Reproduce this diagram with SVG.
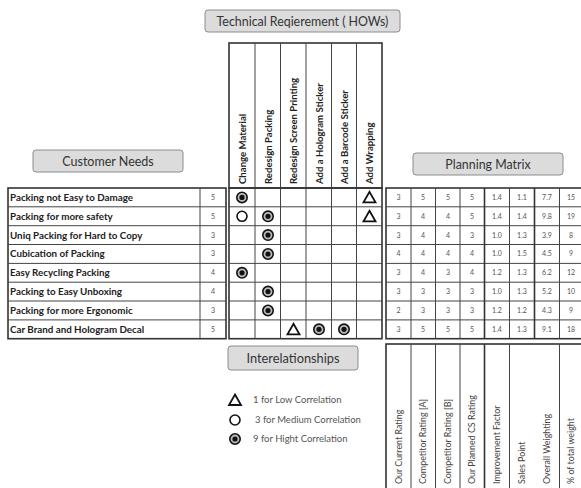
<svg xmlns="http://www.w3.org/2000/svg" width="581" height="488" viewBox="0 0 581 488">
<style>
.lbl{fill:#dcdcdc;stroke:#8c8c8c;stroke-width:1}
.lt{font-family:Lato,"Liberation Sans",sans-serif;fill:#333;text-anchor:middle}
.g{stroke:#444;stroke-width:1;fill:none}
.ob{stroke:#333;stroke-width:1.6;fill:none}
.row{font-family:Lato,"Liberation Sans",sans-serif;font-weight:bold;font-size:9.8px;fill:#222}
.val{font-family:Lato,"Liberation Sans",sans-serif;font-size:7px;fill:#555;text-anchor:middle}
.hd{font-family:Lato,"Liberation Sans",sans-serif;font-weight:bold;font-size:9.6px;fill:#222}
.bt{font-family:Lato,"Liberation Sans",sans-serif;font-size:8.9px;fill:#444}
.lg{font-family:Lato,"Liberation Sans",sans-serif;font-size:9.5px;fill:#555}
.tri{fill:none;stroke:#111;stroke-width:1.8;stroke-linejoin:miter}
.oc{fill:#fff;stroke:#111;stroke-width:1.6}
</style>
<defs>
<g id="full"><circle r="5.2" fill="#bbb" stroke="#111" stroke-width="1.6"/><circle r="2.6" fill="#111"/></g>
<g id="open"><circle r="5" class="oc"/></g>
<g id="tri"><path d="M0,-5.5 L6,5 L-6,5 Z" class="tri"/></g>
</defs>
<rect width="581" height="488" fill="#fff"/>

<!-- Labels -->
<g id="title">
<rect class="lbl" x="205" y="10" width="195" height="22" rx="3"/>
<text class="lt" x="302.5" y="25.5" font-size="12.4">Technical Reqierement ( HOWs)</text>
</g>
<g id="customer-needs">
<rect class="lbl" x="33" y="150" width="150" height="22" rx="3"/>
<text class="lt" x="108" y="166" font-size="12.5">Customer Needs</text>
</g>
<g id="planning-matrix-label">
<rect class="lbl" x="413" y="153" width="150" height="22" rx="3"/>
<text class="lt" x="488" y="168.5" font-size="12.4">Planning Matrix</text>
</g>
<g id="interrelationships-label">
<rect class="lbl" x="228" y="346" width="130" height="24" rx="3"/>
<text class="lt" x="293" y="362.5" font-size="12.8">Interelationships</text>
</g>

<!-- Column headers -->
<g id="hows">
<rect class="ob" x="229" y="43" width="153" height="145"/>
<path class="g" d="M255,43V188M280.5,43V188M306,43V188M331.5,43V188M356.5,43V188"/>
<text class="hd" transform="translate(245.5,184) rotate(-90)">Change Material</text>
<text class="hd" transform="translate(271.5,184) rotate(-90)">Redesign Packing</text>
<text class="hd" transform="translate(297,184) rotate(-90)">Redesign Screen Printing</text>
<text class="hd" transform="translate(322.5,184) rotate(-90)">Add a Hologram Sticker</text>
<text class="hd" transform="translate(347.5,184) rotate(-90)">Add a Barcode Sticker</text>
<text class="hd" transform="translate(373,184) rotate(-90)">Add Wrapping</text>
</g>

<!-- Customer needs table -->
<g id="whats">
<rect class="ob" x="8" y="188" width="218" height="150.7"/>
<path class="g" d="M200,188V338.7M8,206.8H226M8,225.7H226M8,244.5H226M8,263.4H226M8,282.2H226M8,301H226M8,319.9H226"/>
<text class="row" x="10" y="200.8">Packing not Easy to Damage</text>
<text class="row" x="10" y="219.7">Packing for more safety</text>
<text class="row" x="10" y="238.5">Uniq Packing for Hard to Copy</text>
<text class="row" x="10" y="257.4">Cubication of Packing</text>
<text class="row" x="10" y="276.2">Easy Recycling Packing</text>
<text class="row" x="10" y="295">Packing to Easy Unboxing</text>
<text class="row" x="10" y="313.9">Packing for more Ergonomic</text>
<text class="row" x="10" y="332.7">Car Brand and Hologram Decal</text>
<text class="val" x="213" y="199.8">5</text>
<text class="val" x="213" y="218.7">5</text>
<text class="val" x="213" y="237.5">3</text>
<text class="val" x="213" y="256.4">3</text>
<text class="val" x="213" y="275.2">4</text>
<text class="val" x="213" y="294">4</text>
<text class="val" x="213" y="312.9">3</text>
<text class="val" x="213" y="331.7">5</text>
</g>

<!-- Relationship matrix -->
<g id="matrix">
<rect class="ob" x="229" y="188" width="153" height="150.7"/>
<path class="g" d="M255,188V338.7M280.5,188V338.7M306,188V338.7M331.5,188V338.7M356.5,188V338.7M229,206.8H382M229,225.7H382M229,244.5H382M229,263.4H382M229,282.2H382M229,301H382M229,319.9H382"/>
<use href="#full" x="242" y="197.4"/>
<use href="#tri" x="369.5" y="197.4"/>
<use href="#open" x="242" y="216.3"/>
<use href="#full" x="268" y="216.3"/>
<use href="#tri" x="369.5" y="216.3"/>
<use href="#full" x="268" y="235.1"/>
<use href="#full" x="268" y="254"/>
<use href="#full" x="242" y="272.8"/>
<use href="#full" x="268" y="291.6"/>
<use href="#full" x="268" y="310.5"/>
<use href="#tri" x="293.5" y="329.3"/>
<use href="#full" x="319" y="329.3"/>
<use href="#full" x="344" y="329.3"/>
</g>

<!-- Planning matrix -->
<g id="planning">
<rect class="ob" x="386" y="188" width="200" height="150.7"/>
<path class="g" d="M411,188V338.7M435.5,188V338.7M460,188V338.7M509.5,188V338.7M559.5,188V338.7M386,206.8H586M386,225.7H586M386,244.5H586M386,263.4H586M386,282.2H586M386,301H586M386,319.9H586"/>
<path class="ob" d="M484.5,188V338.7M534.5,188V338.7"/>
<g class="val">
<text x="398.5" y="199.8">3</text><text x="423" y="199.8">5</text><text x="448" y="199.8">5</text><text x="472" y="199.8">5</text><text x="497" y="199.8">1.4</text><text x="522" y="199.8">1.1</text><text x="547" y="199.8">7.7</text><text x="571" y="199.8">15</text>
<text x="398.5" y="218.7">3</text><text x="423" y="218.7">4</text><text x="448" y="218.7">4</text><text x="472" y="218.7">5</text><text x="497" y="218.7">1.4</text><text x="522" y="218.7">1.4</text><text x="547" y="218.7">9.8</text><text x="571" y="218.7">19</text>
<text x="398.5" y="237.5">3</text><text x="423" y="237.5">4</text><text x="448" y="237.5">4</text><text x="472" y="237.5">3</text><text x="497" y="237.5">1.0</text><text x="522" y="237.5">1.3</text><text x="547" y="237.5">3.9</text><text x="571" y="237.5">8</text>
<text x="398.5" y="256.4">4</text><text x="423" y="256.4">4</text><text x="448" y="256.4">4</text><text x="472" y="256.4">4</text><text x="497" y="256.4">1.0</text><text x="522" y="256.4">1.5</text><text x="547" y="256.4">4.5</text><text x="571" y="256.4">9</text>
<text x="398.5" y="275.2">3</text><text x="423" y="275.2">4</text><text x="448" y="275.2">3</text><text x="472" y="275.2">4</text><text x="497" y="275.2">1.2</text><text x="522" y="275.2">1.3</text><text x="547" y="275.2">6.2</text><text x="571" y="275.2">12</text>
<text x="398.5" y="294">3</text><text x="423" y="294">3</text><text x="448" y="294">3</text><text x="472" y="294">3</text><text x="497" y="294">1.0</text><text x="522" y="294">1.3</text><text x="547" y="294">5.2</text><text x="571" y="294">10</text>
<text x="398.5" y="312.9">2</text><text x="423" y="312.9">3</text><text x="448" y="312.9">3</text><text x="472" y="312.9">3</text><text x="497" y="312.9">1.2</text><text x="522" y="312.9">1.2</text><text x="547" y="312.9">4.3</text><text x="571" y="312.9">9</text>
<text x="398.5" y="331.7">3</text><text x="423" y="331.7">5</text><text x="448" y="331.7">5</text><text x="472" y="331.7">5</text><text x="497" y="331.7">1.4</text><text x="522" y="331.7">1.3</text><text x="547" y="331.7">9.1</text><text x="571" y="331.7">18</text>
</g>
</g>

<!-- Planning matrix column labels -->
<g id="planning-headers">
<rect class="ob" x="386" y="344" width="200" height="150"/>
<path class="g" d="M411,344V494M435.5,344V494M460,344V494M509.5,344V494M559.5,344V494"/>
<path class="ob" d="M484.5,344V494"/>
<text class="bt" transform="translate(401.5,484) rotate(-90)">Our Current Rating</text>
<text class="bt" transform="translate(426,484) rotate(-90)">Competitor Rating [A]</text>
<text class="bt" transform="translate(451,484) rotate(-90)">Competitor Rating [B]</text>
<text class="bt" transform="translate(475,484) rotate(-90)">Our Planned CS Rating</text>
<text class="bt" transform="translate(500,484) rotate(-90)">Improvement Factor</text>
<text class="bt" transform="translate(525,484) rotate(-90)">Sales Point</text>
<text class="bt" transform="translate(550,484) rotate(-90)">Overall Weighting</text>
<text class="bt" transform="translate(574,484) rotate(-90)">% of total weight</text>
</g>

<!-- Legend -->
<g id="legend">
<use href="#tri" x="235" y="400"/>
<text class="lg" x="253" y="403.3">1 for Low Correlation</text>
<use href="#open" x="235" y="420"/>
<text class="lg" x="255" y="423.3">3 for Medium Correlation</text>
<use href="#full" x="235" y="439"/>
<text class="lg" x="253" y="442.3">9 for Hight Correlation</text>
</g>
<g id="connectors"/>
</svg>
